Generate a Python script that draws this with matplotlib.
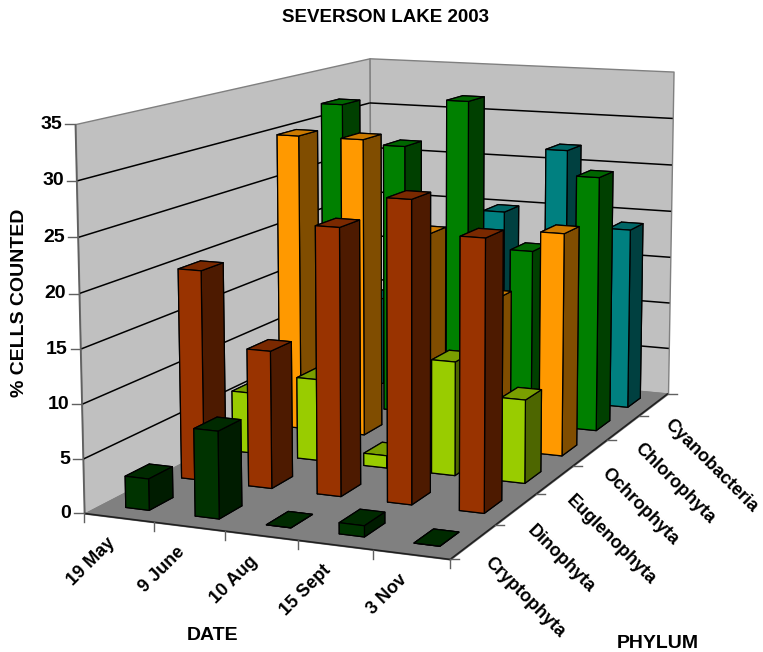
import numpy as np
import matplotlib
matplotlib.use('Agg')
import matplotlib.pyplot as plt
from matplotlib.lines import Line2D
from mpl_toolkits.mplot3d import Axes3D
from mpl_toolkits.mplot3d.art3d import Poly3DCollection

plt.rcParams['font.family'] = ['Liberation Sans', 'DejaVu Sans']
plt.rcParams['font.weight'] = 'bold'

dates = ['19 May', '9 June', '10 Aug', '15 Sept', '3 Nov']
phyla = ['Cryptophyta', 'Dinophyta', 'Euglenophyta', 'Ochrophyta', 'Chlorophyta', 'Cyanobacteria']

cryptophyta = [2.9, 8.0, 0, 1.0, 0]
dinophyta = [20.0, 13.0, 25.0, 28.0, 25.0]
euglenophyta = [6.0, 8.0, 1.2, 11.0, 8.0]
ochrophyta = [30.0, 30.0, 21.0, 15.0, 22.0]
chlorophyta = [32.0, 28.0, 33.0, 18.0, 26.0]
cyanobacteria = [9.5, 14.0, 20.0, 27.0, 19.0]
counts = [cryptophyta, dinophyta, euglenophyta, ochrophyta, chlorophyta, cyanobacteria]

# front, side, top colour of each phylum
colors = [
    ('#003300', '#001c00', '#002a00'),
    ('#993300', '#4d1a00', '#7a2900'),
    ('#99cc00', '#4d6600', '#7a9f00'),
    ('#ff9900', '#804d00', '#cc7a00'),
    ('#008000', '#004000', '#006600'),
    ('#008080', '#004040', '#006666'),
]

zmax = 35
bar_w = 0.34
bar_d = 0.42

W, H = 763, 652
fig = plt.figure(figsize=(W / 100, H / 100), dpi=100)
ax = fig.add_axes([0, 0, 1, 1], projection='3d')
ax.set_axis_off()
ax.computed_zorder = False
ax.apply_aspect()

# camera fitted on the box corners: (date, phylum, value) -> pixel
corners = [
    ((0, 0, 0), (85, 513)), ((5, 0, 0), (450, 560)),
    ((5, 6, 0), (668, 393)), ((0, 6, 0), (370, 366)),
    ((0, 0, 35), (75, 124)), ((0, 6, 35), (370, 58)),
    ((5, 6, 35), (673, 72)), ((5, 6, 15), (671, 257)),
    ((0, 6, 30), (370, 103)),
]
rows = []
for (x, y, z), (u, v) in corners:
    rows.append([x, y, z, 1, 0, 0, 0, 0, -u * x, -u * y, -u * z, -u])
    rows.append([0, 0, 0, 0, x, y, z, 1, -v * x, -v * y, -v * z, -v])
cam = np.linalg.svd(np.array(rows, float))[2][-1].reshape(3, 4)
if cam[2] @ [2.5, 3, 0, 1] < 0:
    cam = -cam
cam = cam / (cam[2] @ [2.5, 3, 0, 1])

to_data = ax.transData.inverted().get_matrix()
flip = np.array([[1, 0, 0], [0, -1, H], [0, 0, 1.0]])
proj = to_data @ flip @ cam
M = np.vstack([proj[0], proj[1], [0, 0, 0, -1], proj[2]])
ax.get_proj = lambda: M


def to_pixel(x, y, z):
    u, v, w = cam @ [x, y, z, 1]
    return u / w, v / w


def label(u, v, s, **kw):
    fig.text(u / W, 1 - v / H, s, fontsize=kw.pop('fontsize', 14), **kw)


def tick(p, du, dv):
    u, v = to_pixel(*p)
    fig.add_artist(Line2D([u / W, (u + du) / W], [1 - v / H, 1 - (v + dv) / H], color='#606060', lw=1.0))


order = 1


def wall(pts, color, edge):
    global order
    poly = Poly3DCollection([pts], facecolor=color, edgecolor=edge, linewidth=1.0, zorder=order)
    poly.set_clip_on(False)
    ax.add_collection3d(poly)
    order += 1


def line(p, q, color='black', lw=1.0):
    ax.plot([p[0], q[0]], [p[1], q[1]], [p[2], q[2]], color=color, lw=lw, zorder=order,
            clip_on=False, solid_capstyle='butt')


wall([(0, 0, 0), (0, 6, 0), (0, 6, zmax), (0, 0, zmax)], '#c0c0c0', '#808080')
wall([(0, 6, 0), (5, 6, 0), (5, 6, zmax), (0, 6, zmax)], '#c0c0c0', '#808080')
wall([(0, 0, 0), (5, 0, 0), (5, 6, 0), (0, 6, 0)], '#808080', '#808080')

# gridlines on both walls
for z in range(5, zmax, 5):
    line((0, 0, z), (0, 6, z), lw=1.1)
    line((0, 6, z), (5, 6, z), lw=1.1)
order += 1

# axis lines
line((0, 0, 0), (0, 0, zmax), '#606060', 1.2)
line((0, 0, 0), (5, 0, 0), '#202020', 1.2)
line((5, 0, 0), (5, 6, 0), '#202020', 1.2)
order += 1

# back rows first, later dates in front of earlier ones
for j in range(len(phyla) - 1, -1, -1):
    front, side, top = colors[j]
    for i in range(len(dates)):
        bar = ax.bar3d(i + 0.52 - bar_w / 2, j + 0.5 - bar_d / 2, 0, bar_w, bar_d, counts[j][i],
                       color=[top, top, front, front, side, side], edgecolor='black',
                       linewidth=0.9, shade=False, zorder=order)
        bar.set_clip_on(False)
        order += 1

for z in range(0, zmax + 1, 5):
    tick((0, 0, z), -10, 0)
    u, v = to_pixel(0, 0, z)
    label(u - 13, v, str(z), ha='right', va='center')
for i in range(len(dates) + 1):
    tick((i, 0, 0), 0, 9)
for j in range(len(phyla) + 1):
    tick((5, j, 0), 9, 0)

for i, d in enumerate(dates):
    u, v = to_pixel(i + 0.5, 0, 0)
    label(u - 7, v + 23, d, rotation=45, rotation_mode='anchor', ha='right', va='center', fontsize=13)
for j, p in enumerate(phyla):
    u, v = to_pixel(5, j + 0.5, 0)
    label(u + 14, v + 18, p, rotation=-45, rotation_mode='anchor', ha='left', va='center', fontsize=13)

label(386, 17, 'SEVERSON LAKE 2003', ha='center', va='center', fontsize=13.5)
label(213, 636, 'DATE', ha='center', va='center')
label(658, 643, 'PHYLUM', ha='center', va='center')
label(20, 303, '% CELLS COUNTED', rotation=90, ha='center', va='center')

fig.savefig('out.png', dpi=100)
